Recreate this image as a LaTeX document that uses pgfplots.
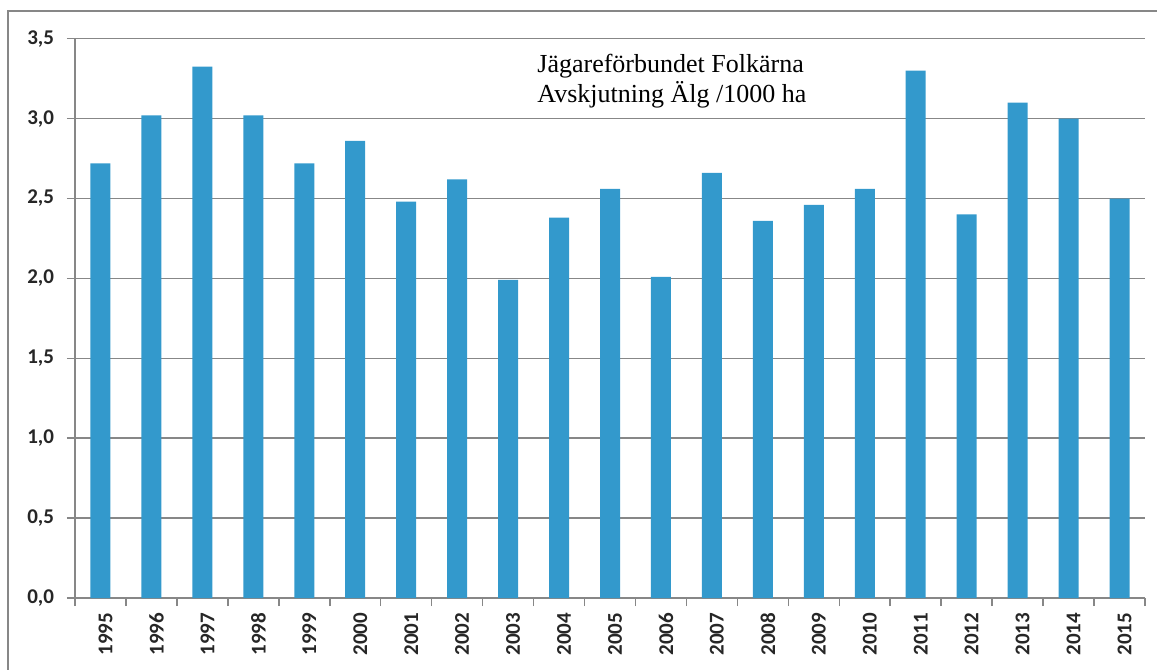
\documentclass[border=0pt]{standalone}
\usepackage{pgfplots}
\pgfplotsset{compat=1.18}
\usepackage{fontspec}
\setmainfont{Liberation Serif}
\newfontfamily\carlito{Carlito}
\definecolor{barblue}{HTML}{3399CC}
\definecolor{gridgray}{HTML}{878787}
\begin{document}
\begin{tikzpicture}
\useasboundingbox (-37.5bp,-36bp) rectangle (541bp,299bp);
\draw[gridgray, line width=0.9bp] (-33.5bp,-40bp) -- (-33.5bp,293.5bp) -- (545bp,293.5bp);
\begin{axis}[
  scale only axis, width=535bp, height=279.65bp,
  xmin=-0.5, xmax=20.5, ymin=0, ymax=3.5,
  axis x line*=bottom, axis y line*=left,
  axis line style={gridgray, line width=0.75bp, -},
  ytick={0,0.5,...,3.5},
  ymajorgrids, grid style={gridgray, line width=0.75bp},
  tick align=outside, major tick length=4bp, minor tick length=4bp,
  tick style={gridgray, line width=0.75bp},
  xtick={0,...,20},
  xticklabels={1995,1996,1997,1998,1999,2000,2001,2002,2003,2004,2005,2006,2007,2008,2009,2010,2011,2012,2013,2014,2015},
  major x tick style={draw=none},
  minor xtick={-0.5,0.5,...,20.5},
  /pgf/number format/assume math mode=true,
  y tick label style={/pgf/number format/.cd, fixed, fixed zerofill, precision=1, use comma, /tikz/.cd,
    font=\carlito\bfseries\fontsize{10.5bp}{12bp}\selectfont, text=black!85, xshift=-3bp},
  x tick label style={rotate=90, anchor=east, font=\carlito\bfseries\fontsize{10.5bp}{12bp}\selectfont, text=black!85, yshift=-2.5bp},
]
\addplot[ybar, bar width=10bp, fill=barblue, draw=none] coordinates {
(0,2.72) (1,3.02) (2,3.325) (3,3.02) (4,2.72) (5,2.86) (6,2.48) (7,2.62)
(8,1.99) (9,2.38) (10,2.56) (11,2.01) (12,2.66) (13,2.36) (14,2.46)
(15,2.56) (16,3.30) (17,2.40) (18,3.10) (19,3.00) (20,2.50)
};
\end{axis}
\node[anchor=base west, font=\fontsize{13bp}{15bp}\selectfont, inner sep=0pt] at (231bp,262.5bp) {Jägareförbundet Folkärna};
\node[anchor=base west, font=\fontsize{13bp}{15bp}\selectfont, inner sep=0pt] at (231bp,247.5bp) {Avskjutning Älg /1000 ha};
\end{tikzpicture}
\end{document}
